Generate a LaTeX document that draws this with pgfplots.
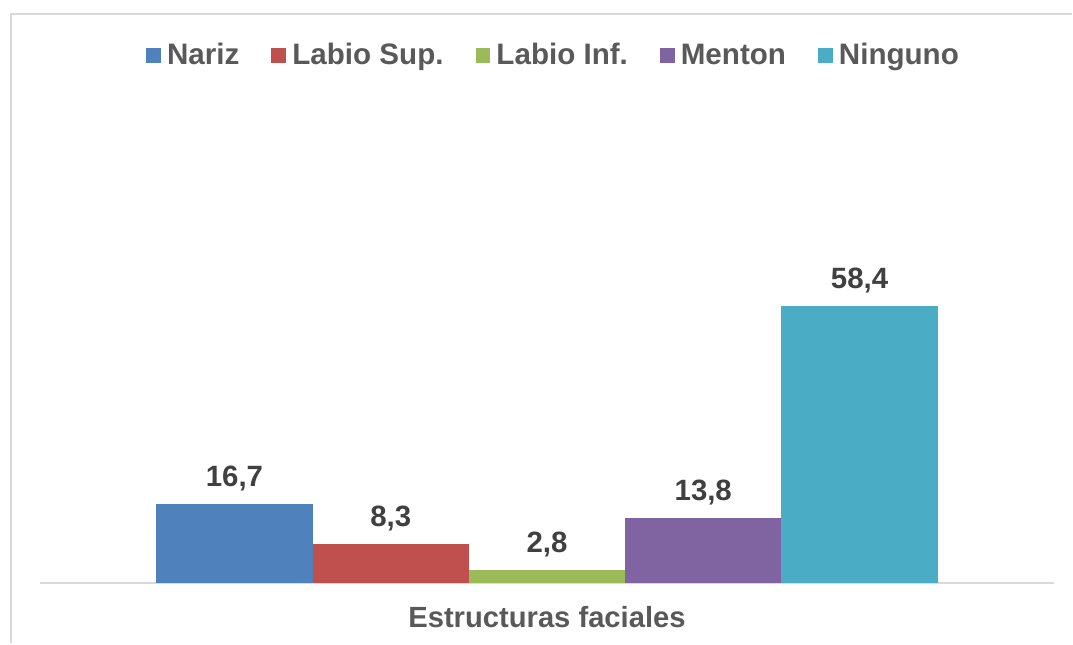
\documentclass[border=0pt]{standalone}
\usepackage{pgfplots}
\pgfplotsset{compat=1.18}
\usepackage{fontspec}
\setmainfont{Liberation Sans}
\definecolor{cNariz}{HTML}{4F81BD}
\definecolor{cSup}{HTML}{C0504D}
\definecolor{cInf}{HTML}{9BBB59}
\definecolor{cMenton}{HTML}{8064A2}
\definecolor{cNinguno}{HTML}{4BACC6}
\definecolor{txtGray}{HTML}{595959}
\definecolor{lblGray}{HTML}{404040}
\definecolor{lineGray}{HTML}{D9D9D9}
\begin{document}
\begin{tikzpicture}
\begin{axis}[
    name=ax,
    scale only axis,
    width=507.5pt, height=247pt,
    ybar=0pt, bar width=78.2pt,
    xmin=-1, xmax=1, ymin=0, ymax=104,
    enlargelimits=false,
    axis x line=bottom, axis y line=none,
    axis line style={-},
    x axis line style={draw=lineGray, line width=1pt},
    xtick=\empty, ytick=\empty,
    xlabel={Estructuras faciales},
    xlabel style={at={(axis description cs:0.5,0)}, anchor=center, yshift=-17pt,
        font=\fontsize{14.6}{17}\selectfont\bfseries, text=txtGray},
    nodes near coords,
    nodes near coords style={font=\fontsize{14.7}{17}\selectfont\bfseries, text=lblGray, yshift=3pt},
    /pgf/number format/.cd, use comma, fixed, fixed zerofill, precision=1, assume math mode=true,
    /pgfplots/.cd,
    legend columns=5,
    legend style={at={(0.5,1)}, anchor=center, xshift=3.5pt, yshift=16.5pt, draw=none,
        font=\fontsize{14.8}{17}\selectfont\bfseries, text=txtGray,
        /tikz/every odd column/.append style={column sep=1.5pt},
        /tikz/every even column/.append style={column sep=14.5pt},
        nodes={inner sep=1.5pt, text height=10.5pt, text depth=3pt}},
    legend image code/.code={\fill[#1] (0pt,-3.25pt) rectangle (7.5pt,4.25pt);},
]
\addplot[fill=cNariz, draw=none] coordinates {(0,16.7)};
\addlegendentry{Nariz}
\addplot[fill=cSup, draw=none] coordinates {(0,8.3)};
\addlegendentry{Labio Sup.}
\addplot[fill=cInf, draw=none] coordinates {(0,2.8)};
\addlegendentry{Labio Inf.}
\addplot[fill=cMenton, draw=none] coordinates {(0,13.8)};
\addlegendentry{Menton}
\addplot[fill=cNinguno, draw=none] coordinates {(0,58.4)};
\addlegendentry{Ninguno}
\end{axis}
% chart frame (cropped at right and bottom in the reference)
\draw[lineGray, line width=1pt] ([xshift=-14.5pt,yshift=-30pt]ax.south west) -- ([xshift=-14.5pt,yshift=38pt]ax.north west) -- ([xshift=9pt,yshift=38pt]ax.north east);
\path ([xshift=-20pt,yshift=-30pt]ax.south west) rectangle ([xshift=9pt,yshift=45pt]ax.north east);
\end{tikzpicture}
\end{document}
